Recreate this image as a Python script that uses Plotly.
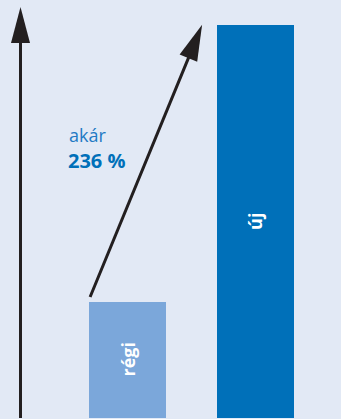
import math
import plotly.graph_objects as go

# adatok
labels = ["régi", "új"]
values = [100, 339]
bar_colors = ["#7ba7da", "#0070b9"]
note_word = "akár"
note_pct = "236 %"

W, H = 341, 419
MB = 1
PH = H - MB                  # plot height in px
SX = 128.0                   # px per x unit
X0 = 1 - 127.5 / SX
X1 = X0 + W / SX
SY = 1.16                    # px per y unit
Y1 = PH / SY

INK = "#231f20"
BG = "#e2e9f5"


def to_px(x, y):
    return (x - X0) * SX, PH - y * SY


def to_data(px, py):
    return px / SX + X0, (PH - py) / SY


def arrow(fig, tail, tip, head_len=36, head_w=19, width=3):
    """nyíl: vonal + háromszög fej (pixel méretezés a csúcshoz)"""
    tx, ty = to_px(*tail)
    hx, hy = to_px(*tip)
    d = math.hypot(hx - tx, hy - ty)
    ux, uy = (hx - tx) / d, (hy - ty) / d
    nx, ny = -uy, ux
    bx, by = -head_len * ux, -head_len * uy
    pts = [(0, 0),
           (bx + nx * head_w / 2, by + ny * head_w / 2),
           (bx - nx * head_w / 2, by - ny * head_w / 2)]
    path = "M" + " L".join(f"{px:.2f},{-py:.2f}" for px, py in pts) + " Z"
    fig.add_shape(type="path", xref="x", yref="y", xsizemode="pixel", ysizemode="pixel",
                  xanchor=tip[0], yanchor=tip[1], path=path,
                  fillcolor=INK, line=dict(width=0), layer="above")
    ex, ey = to_data(hx - (head_len - 4) * ux, hy - (head_len - 4) * uy)
    fig.add_shape(type="line", xref="x", yref="y", x0=tail[0], y0=tail[1], x1=ex, y1=ey,
                  line=dict(color=INK, width=width), layer="above")


fig = go.Figure(go.Bar(
    x=[1, 2], y=values, width=0.6,
    marker=dict(color=bar_colors, line=dict(width=0)),
    hoverinfo="skip",
))

# oszlopcímkék
for i, (lab, v) in enumerate(zip(labels, values)):
    fig.add_annotation(x=i + 1, y=v / 2, text=f"<b>{lab}</b>", showarrow=False,
                       textangle=-90, font=dict(family="Open Sans", size=18, color="white"))

# függőleges nyíl (tengely)
ax_x = 1 - 107 / SX
arrow(fig, (ax_x, -5), (ax_x, (PH - 7) / SY))

# átlós nyíl a régitől az újig
tail = (1 - 0.3 + 1 / SX, values[0] + 5 / SY)
tip = (2 - 0.3 - 15 / SX, values[1])
arrow(fig, tail, tip)

fig.add_annotation(xref="paper", yref="paper", x=67 / W, y=1 - 135 / PH, xanchor="left",
                   yanchor="middle", text=note_word, showarrow=False,
                   font=dict(family="Open Sans", size=18, color="#1f7ac4"))
fig.add_annotation(xref="paper", yref="paper", x=66 / W, y=1 - 160 / PH, xanchor="left",
                   yanchor="middle", text=f"<b>{note_pct}</b>", showarrow=False,
                   font=dict(family="Open Sans", size=20, color="#0070b9"))

fig.update_xaxes(range=[X0, X1], visible=False, fixedrange=True)
fig.update_yaxes(range=[0, Y1], visible=False, fixedrange=True)
fig.update_layout(
    width=W, height=H,
    margin=dict(l=0, r=0, t=0, b=MB),
    paper_bgcolor=BG, plot_bgcolor=BG,
    showlegend=False, bargap=0,
)
fig.write_html("out.html", config={"displayModeBar": False},
               post_script="document.body.style.margin='0';")
